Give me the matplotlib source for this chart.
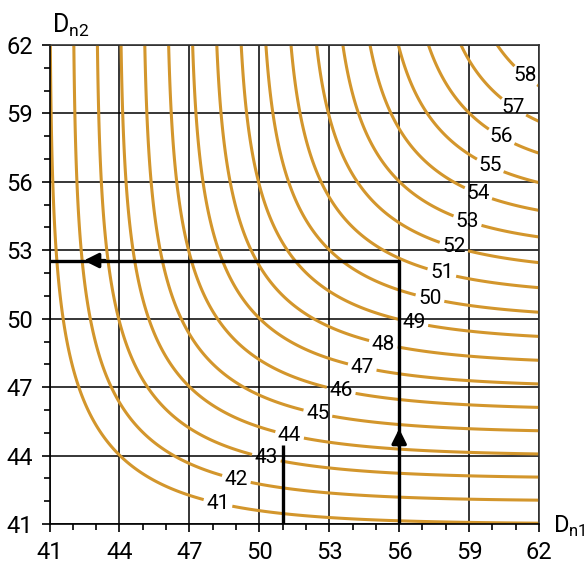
import numpy as np
import matplotlib
matplotlib.use('Agg')
import matplotlib.pyplot as plt

plt.rcParams['font.family'] = ['Roboto', 'DejaVu Sans']
plt.rcParams['mathtext.fontset'] = 'custom'
plt.rcParams['mathtext.rm'] = 'Roboto'

# 축 범위와 눈금
x_min, x_max = 41, 62
y_min, y_max = 41, 62
ticks = [41, 44, 47, 50, 53, 56, 59, 62]

# 등고선 값 (합성 차음값)
levels = list(range(41, 59))

# 라벨 위치
label_x = [48.2, 49.0, 50.3, 51.3, 52.5, 53.5, 54.4, 55.3, 56.6, 57.3, 57.8, 58.3,
           58.9, 59.4, 59.9, 60.4, 60.8, 61.3]
label_y = [41.8, 42.9, 43.9, 44.9, 45.8, 46.8, 47.8, 48.8, 49.7, 50.8, 51.9, 53.0,
           54.2, 55.5, 56.7, 58.0, 59.1, 60.5]

# 예시 경로
path_x = [56, 56, 41]
path_y = [41, 52.55, 52.55]
side_x = [51, 51]
side_y = [41, 44.45]

line_color = '#D3962C'

dn1 = np.linspace(x_min, x_max, 500)
dn2 = np.linspace(y_min, y_max, 500)
X, Y = np.meshgrid(dn1, dn2)
Z = -10 * np.log10(10 ** (-X / 10) + 10 ** (-Y / 10))

fig = plt.figure(figsize=(5.88, 5.68), dpi=100)
ax = fig.add_axes([0.0842, 0.0775, 0.8325, 0.8433])

ax.set_xlim(x_min, x_max)
ax.set_ylim(y_min, y_max)
ax.set_xticks(ticks)
ax.set_yticks(ticks)
ax.set_xticks(range(x_min, x_max + 1), minor=True)
ax.set_yticks(range(y_min, y_max + 1), minor=True)
ax.tick_params(which='major', direction='out', length=6, width=1.2, labelsize=17, pad=6)
ax.tick_params(which='minor', direction='out', length=4, width=1.2)
ax.grid(True, which='major', color='black', lw=1.1, zorder=1)
for s in ax.spines.values():
    s.set_color('#333333')
    s.set_linewidth(1.2)
ax.spines['left'].set_color('black')
ax.spines['bottom'].set_color('black')

cs = ax.contour(X, Y, Z, levels=levels, colors=line_color, linewidths=2.2, zorder=2)
labels = ax.clabel(cs, fmt='%d', fontsize=15, colors='black', inline=True,
                   inline_spacing=3, manual=list(zip(label_x, label_y)))
for t in labels:
    t.set_rotation(0)
    t.set_zorder(6)

ax.plot(path_x, path_y, color='black', lw=2.4, zorder=4, solid_capstyle='butt')
ax.plot(side_x, side_y, color='black', lw=2.4, zorder=4, solid_capstyle='butt')
ax.annotate('', xy=(56, 45.3), xytext=(56, 44.3),
            arrowprops=dict(arrowstyle='-|>', mutation_scale=22, color='black', lw=2.4),
            zorder=5)
ax.annotate('', xy=(42.35, 52.55), xytext=(43.5, 52.55),
            arrowprops=dict(arrowstyle='-|>', mutation_scale=22, color='black', lw=2.4),
            zorder=5)

fig.text(0.088, 0.942, r'$\mathrm{D}_{\mathrm{n2}}$', fontsize=18, ha='left', va='baseline')
fig.text(0.996, 0.062, r'$\mathrm{D}_{\mathrm{n1}}$', fontsize=17, ha='right', va='baseline')

fig.savefig('out.png', dpi=100)
